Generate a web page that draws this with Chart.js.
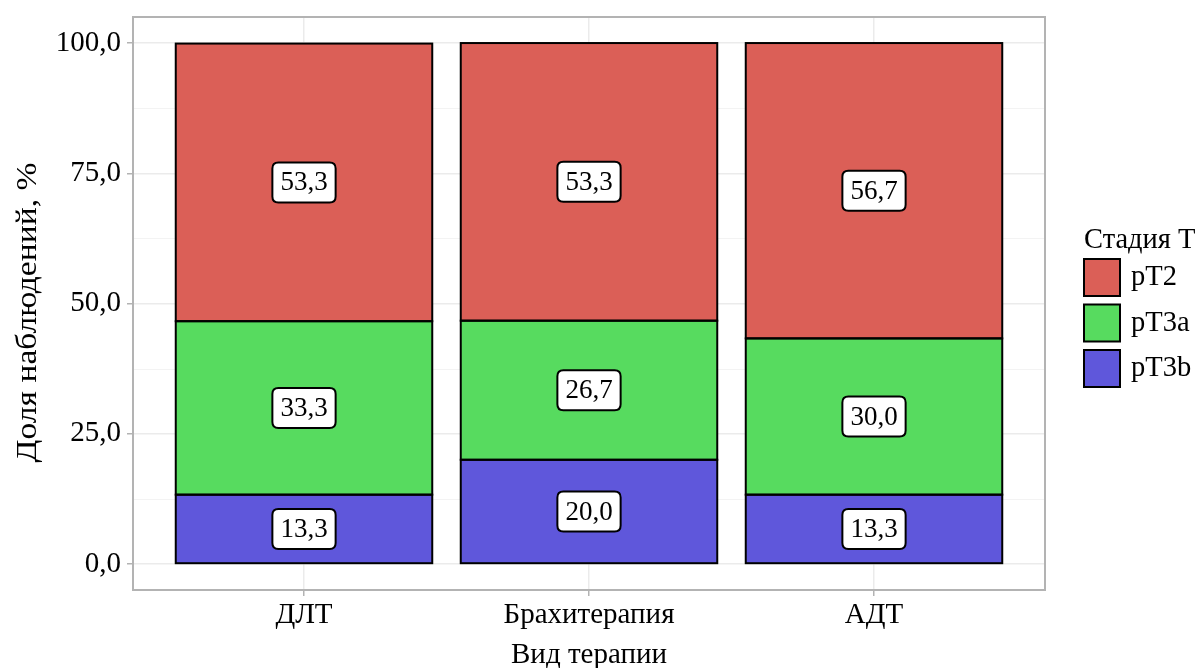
<!DOCTYPE html>
<html>
<head>
<meta charset="utf-8">
<script src="https://cdn.jsdelivr.net/npm/chart.js@4/dist/chart.umd.min.js"></script>
<style>
html,body{margin:0;padding:0;background:#fff;}
#wrap{width:1201px;height:668px;position:relative;}
</style>
</head>
<body>
<div id="wrap"><canvas id="c" width="1201" height="668"></canvas></div>
<script>
const categories = ['ДЛТ', 'Брахитерапия', 'АДТ'];
const seriesNames = ['pT3b', 'pT3a', 'pT2'];
const pT3b = [13.3, 20.0, 13.3];
const pT3a = [33.3, 26.7, 30.0];
const pT2 = [53.3, 53.3, 56.7];
const yTicks = [0, 25, 50, 75, 100];
const yMinor = [12.5, 37.5, 62.5, 87.5];
const legendOrder = ['pT2', 'pT3a', 'pT3b'];
const legendTitle = 'Стадия Т';
const xTitle = 'Вид терапии';
const yTitle = 'Доля наблюдений, %';

const colors = {pT2: '#DB5F57', pT3a: '#57DB5F', pT3b: '#5F57DB'};
const seriesValues = {pT3b: pT3b, pT3a: pT3a, pT2: pT2};
const FONT = '"Liberation Serif", "Times New Roman", serif';
const fmt = v => v.toFixed(1).replace('.', ',');

const datasets = seriesNames.map(name => ({
  label: name,
  data: seriesValues[name].map((v, i) => ({x: i + 1, y: v})),
  backgroundColor: colors[name],
  borderWidth: 0,
  barPercentage: 0.9,
  categoryPercentage: 1.0
}));

function roundRect(ctx, x, y, w, h, r) {
  ctx.beginPath();
  ctx.moveTo(x + r, y);
  ctx.lineTo(x + w - r, y);
  ctx.quadraticCurveTo(x + w, y, x + w, y + r);
  ctx.lineTo(x + w, y + h - r);
  ctx.quadraticCurveTo(x + w, y + h, x + w - r, y + h);
  ctx.lineTo(x + r, y + h);
  ctx.quadraticCurveTo(x, y + h, x, y + h - r);
  ctx.lineTo(x, y + r);
  ctx.quadraticCurveTo(x, y, x + r, y);
  ctx.closePath();
}

const decor = {
  id: 'decor',
  beforeDatasetsDraw(chart) {
    const {ctx, chartArea: a, scales: {y}} = chart;
    ctx.save();
    ctx.strokeStyle = '#F3F3F3';
    ctx.lineWidth = 1;
    yMinor.forEach(v => {
      const py = Math.round(y.getPixelForValue(v)) + 0.5;
      ctx.beginPath(); ctx.moveTo(a.left, py); ctx.lineTo(a.right, py); ctx.stroke();
    });
    ctx.restore();
  },
  afterDatasetsDraw(chart) {
    const {ctx, chartArea: a, scales: {x}} = chart;
    ctx.save();
    // bar outlines centred on the bar edges (as in the reference)
    ctx.strokeStyle = '#000';
    ctx.lineWidth = 2;
    chart.data.datasets.forEach((ds, di) => {
      chart.getDatasetMeta(di).data.forEach(bar => {
        const l = bar.x - bar.width / 2;
        const t = Math.min(bar.y, bar.base);
        const h = Math.abs(bar.base - bar.y);
        ctx.strokeRect(l, t, bar.width, h);
      });
    });
    ctx.font = '27px ' + FONT;
    ctx.textAlign = 'center';
    ctx.textBaseline = 'middle';
    chart.data.datasets.forEach((ds, di) => {
      const meta = chart.getDatasetMeta(di);
      meta.data.forEach((bar, i) => {
        const cy = (bar.y + bar.base) / 2;
        const txt = fmt(ds.data[i].y);
        const tw = ctx.measureText(txt).width;
        const w = tw + 16, h = 40;
        roundRect(ctx, bar.x - w / 2, cy - h / 2, w, h, 6);
        ctx.fillStyle = '#fff';
        ctx.fill();
        ctx.lineWidth = 2;
        ctx.strokeStyle = '#000';
        ctx.stroke();
        ctx.fillStyle = '#000';
        ctx.fillText(txt, bar.x, cy + 1);
      });
    });
    // panel border
    ctx.strokeStyle = '#B3B3B3';
    ctx.lineWidth = 2;
    ctx.strokeRect(a.left, a.top, a.right - a.left, a.bottom - a.top);
    // x category labels
    ctx.fillStyle = '#000';
    ctx.font = '29px ' + FONT;
    ctx.textAlign = 'center';
    ctx.textBaseline = 'alphabetic';
    categories.forEach((c, i) => {
      ctx.fillText(c, x.getPixelForValue(i + 1), 623);
    });
    // axis titles
    ctx.font = '29px ' + FONT;
    ctx.fillText(xTitle, (a.left + a.right) / 2, 663);
    ctx.save();
    ctx.font = '30px ' + FONT;
    ctx.translate(36, (a.top + a.bottom) / 2 + 9);
    ctx.rotate(-Math.PI / 2);
    const yw = ctx.measureText(yTitle).width;
    ctx.scale(300 / yw, 1);
    ctx.fillText(yTitle, 0, 0);
    ctx.restore();
    // legend
    ctx.font = '28.5px ' + FONT;
    ctx.textAlign = 'left';
    ctx.fillText(legendTitle, 1084, 248);
    legendOrder.forEach((name, i) => {
      const top = 259 + i * 45.5;
      ctx.fillStyle = colors[name];
      ctx.fillRect(1084, top, 36, 37);
      ctx.strokeStyle = '#000';
      ctx.lineWidth = 2;
      ctx.strokeRect(1084, top, 36, 37);
      ctx.fillStyle = '#000';
      ctx.textBaseline = 'middle';
      ctx.fillText(name, 1131, top + 19);
      ctx.textBaseline = 'alphabetic';
    });
    ctx.restore();
  }
};

new Chart(document.getElementById('c'), {
  type: 'bar',
  data: {datasets},
  options: {
    responsive: false,
    animation: false,
    devicePixelRatio: 1,
    layout: {padding: {left: 0, top: 17, right: 156, bottom: 0}},
    plugins: {legend: {display: false}, tooltip: {enabled: false}},
    scales: {
      x: {
        type: 'linear',
        min: 0.4, max: 3.6,
        offset: false,
        stacked: true,
        afterBuildTicks: s => { s.ticks = categories.map((c, i) => ({value: i + 1})); },
        afterFit: s => { s.height = 78; s.paddingLeft = 0; s.paddingRight = 0; },
        grid: {offset: false, color: '#EBEBEB', lineWidth: 1.5, tickColor: '#B3B3B3', tickLength: 6, drawTicks: true},
        border: {display: false},
        ticks: {display: false, autoSkip: false}
      },
      y: {
        min: -5, max: 105,
        stacked: true,
        afterBuildTicks: s => { s.ticks = yTicks.map(v => ({value: v})); },
        afterFit: s => { s.width = 133; s.paddingTop = 0; s.paddingBottom = 0; },
        grid: {color: '#EBEBEB', lineWidth: 1.5, tickColor: '#B3B3B3', tickLength: 6},
        border: {display: false},
        ticks: {
          callback: v => fmt(v),
          color: '#000',
          font: {family: FONT, size: 29},
          padding: 6
        }
      }
    }
  },
  plugins: [decor]
});
</script>
</body>
</html>
